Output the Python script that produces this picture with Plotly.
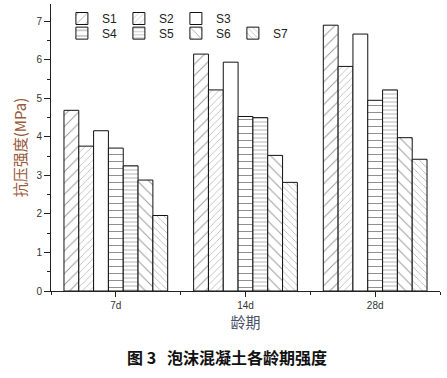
import plotly.graph_objects as go

categories = ["7d", "14d", "28d"]
series_names = ["S1", "S2", "S3", "S4", "S5", "S6", "S7"]
S1 = [4.69, 6.15, 6.90]
S2 = [3.76, 5.22, 5.83]
S3 = [4.16, 5.94, 6.67]
S4 = [3.71, 4.53, 4.95]
S5 = [3.25, 4.50, 5.22]
S6 = [2.88, 3.52, 3.98]
S7 = [1.96, 2.82, 3.42]
values = [S1, S2, S3, S4, S5, S6, S7]
y_ticks = [0, 1, 2, 3, 4, 5, 6, 7]

patterns = [
    dict(shape="/", size=8, solidity=0.12, fgcolor="#333333"),
    dict(shape="/", size=5, solidity=0.15, fgcolor="#666666"),
    dict(shape="", fgcolor="#ffffff"),
    dict(shape="-", size=7, solidity=0.15, fgcolor="#222222"),
    dict(shape="-", size=4, solidity=0.2, fgcolor="#444444"),
    dict(shape="\\", size=8, solidity=0.12, fgcolor="#333333"),
    dict(shape="\\", size=5, solidity=0.15, fgcolor="#555555"),
]

xpos = list(range(len(categories)))
fig = go.Figure()
for i, (name, vals) in enumerate(zip(series_names, values)):
    fig.add_trace(go.Bar(
        x=xpos, y=vals, name=name,
        marker=dict(color="white", line=dict(color="#111111", width=1), pattern=patterns[i]),
        legend="legend" if i < 3 else "legend2",
    ))

tick_font = dict(family="Liberation Sans, Arial", size=10, color="#333333")
legend_font = dict(family="Liberation Sans, Arial", size=12, color="#222222")
fig.update_layout(
    width=447, height=378,
    margin=dict(l=51, r=7, t=4, b=87),
    paper_bgcolor="white", plot_bgcolor="white",
    barmode="group", bargap=0.2, bargroupgap=0,
    xaxis=dict(
        range=[-0.5, 2.5], tickmode="array", tickvals=xpos, ticktext=categories,
        showline=True, linecolor="#222222", linewidth=1, automargin=False,
        ticks="outside", ticklen=5, tickcolor="#222222", tickfont=tick_font,
        minor=dict(tickvals=[-0.5, 0.5, 1.5, 2.5], ticks="outside", ticklen=3, tickcolor="#222222"),
        showgrid=False, zeroline=False,
        title=dict(text="龄期", font=dict(family="Noto Sans CJK SC", size=15, color="#4a5068"), standoff=4),
    ),
    yaxis=dict(
        range=[0, 7.45], tickmode="array", tickvals=y_ticks,
        showline=True, linecolor="#222222", linewidth=1, automargin=False,
        ticks="outside", ticklen=6, tickcolor="#222222", tickfont=tick_font,
        minor=dict(dtick=0.5, tick0=0, ticks="outside", ticklen=3, tickcolor="#222222"),
        showgrid=False, zeroline=False,
        title=dict(text="抗压强度(MPa)", font=dict(family="Noto Sans CJK SC", size=15, color="#9a5a3a"), standoff=6),
    ),
    legend=dict(x=0.028, y=1.0, xanchor="left", yanchor="top", orientation="h",
                font=legend_font, entrywidth=12, itemwidth=30,
                bgcolor="rgba(0,0,0,0)", tracegroupgap=0),
    legend2=dict(x=0.028, y=0.949, xanchor="left", yanchor="top", orientation="h",
                 font=legend_font, entrywidth=12, itemwidth=30,
                 bgcolor="rgba(0,0,0,0)", tracegroupgap=0),
    annotations=[dict(text="<b>图 3   泡沫混凝土各龄期强度</b>", x=0.452, y=-0.23, xref="paper", yref="paper",
                      xanchor="center", yanchor="middle", showarrow=False,
                      font=dict(family="Noto Sans CJK SC", size=16, color="#111111"))],
)
fig.write_html("out.html", config={"displayModeBar": False},
               post_script="document.body.style.margin='0px';")
